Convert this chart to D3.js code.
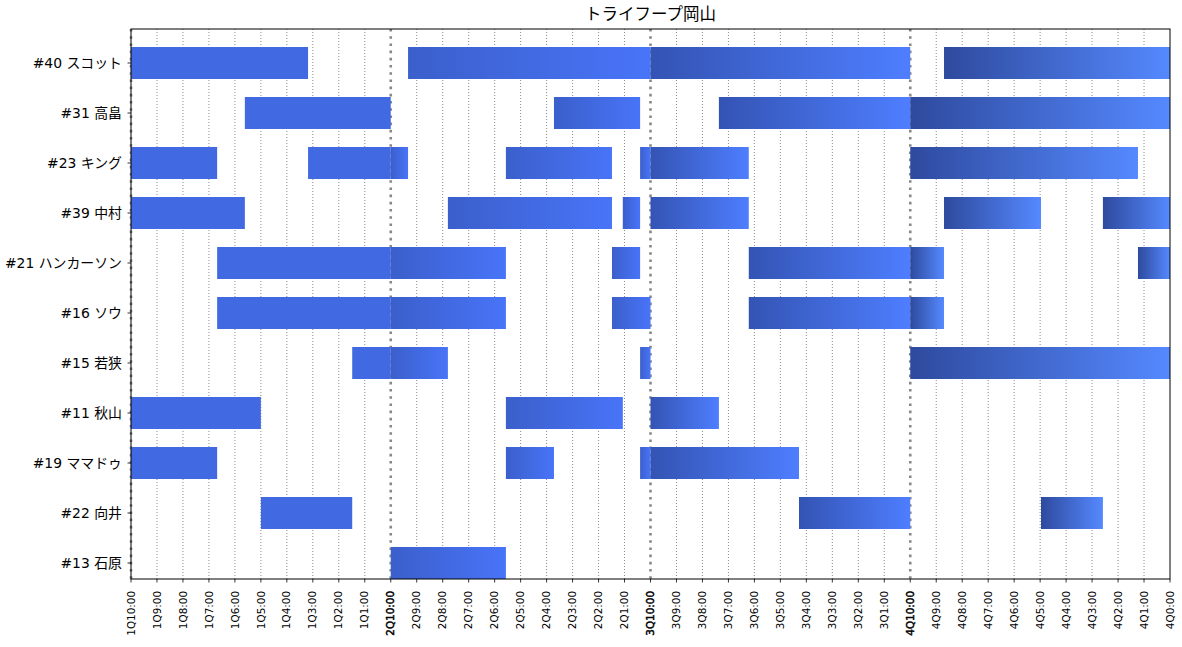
<!DOCTYPE html>
<html>
<head>
<meta charset="utf-8">
<script src="https://cdn.jsdelivr.net/npm/d3@7"></script>
<style>
  body { margin: 0; background: #fff; }
  text { font-family: "DejaVu Sans", "Noto Sans CJK JP", sans-serif; }
</style>
</head>
<body>
<svg id="chart" width="1182" height="647"></svg>
<script>
const title = "トライフープ岡山";

// top to bottom
const players = [
  "#40 スコット", "#31 高畠", "#23 キング", "#39 中村", "#21 ハンカーソン",
  "#16 ソウ", "#15 若狭", "#11 秋山", "#19 ママドゥ", "#22 向井", "#13 石原"
];

const quarters = ["1Q", "2Q", "3Q", "4Q"];
const clockMinutes = [10, 9, 8, 7, 6, 5, 4, 3, 2, 1, 0];

// colour multiplier (start, end of bar) for each quarter
const quarterShade = [[1, 1], [0.9, 1.1], [0.8, 1.2], [0.7, 1.3]];
const baseColor = "royalblue";

// [player, in, out] as game clock
const stints = [
  ["#40 スコット", "1Q10:00", "1Q3:11"],
  ["#40 スコット", "2Q9:20", "3Q0:00"],
  ["#40 スコット", "4Q8:42", "4Q0:00"],
  ["#31 高畠", "1Q5:37", "1Q0:00"],
  ["#31 高畠", "2Q3:43", "2Q0:24"],
  ["#31 高畠", "3Q7:22", "4Q0:00"],
  ["#23 キング", "1Q10:00", "1Q6:41"],
  ["#23 キング", "1Q3:11", "2Q9:20"],
  ["#23 キング", "2Q5:34", "2Q1:29"],
  ["#23 キング", "2Q0:24", "3Q6:13"],
  ["#23 キング", "4Q10:00", "4Q1:14"],
  ["#39 中村", "1Q10:00", "1Q5:37"],
  ["#39 中村", "2Q7:48", "2Q1:29"],
  ["#39 中村", "2Q1:04", "2Q0:24"],
  ["#39 中村", "3Q10:00", "3Q6:13"],
  ["#39 中村", "4Q8:42", "4Q4:58"],
  ["#39 中村", "4Q2:35", "4Q0:00"],
  ["#21 ハンカーソン", "1Q6:41", "2Q5:34"],
  ["#21 ハンカーソン", "2Q1:29", "2Q0:24"],
  ["#21 ハンカーソン", "3Q6:13", "4Q8:42"],
  ["#21 ハンカーソン", "4Q1:14", "4Q0:00"],
  ["#16 ソウ", "1Q6:41", "2Q5:34"],
  ["#16 ソウ", "2Q1:29", "2Q0:00"],
  ["#16 ソウ", "3Q6:13", "4Q8:42"],
  ["#15 若狭", "1Q1:29", "2Q7:48"],
  ["#15 若狭", "2Q0:24", "2Q0:00"],
  ["#15 若狭", "4Q10:00", "4Q0:00"],
  ["#11 秋山", "1Q10:00", "1Q5:00"],
  ["#11 秋山", "2Q5:34", "2Q1:04"],
  ["#11 秋山", "3Q10:00", "3Q7:22"],
  ["#19 ママドゥ", "1Q10:00", "1Q6:41"],
  ["#19 ママドゥ", "2Q5:34", "2Q3:43"],
  ["#19 ママドゥ", "2Q0:24", "3Q4:17"],
  ["#22 向井", "1Q5:00", "1Q1:29"],
  ["#22 向井", "3Q4:17", "3Q0:00"],
  ["#22 向井", "4Q4:58", "4Q2:35"],
  ["#13 石原", "2Q10:00", "2Q5:34"]
];

// "2Q5:34" -> minutes elapsed since tip-off
function elapsed(clock){
  const m = clock.match(/(\d)Q(\d+):(\d+)/);
  const q = +m[1], min = +m[2], sec = +m[3];
  return (q - 1) * 10 + (10 - (min + sec / 60));
}

const margin = { left: 131, right: 1170, top: 29, bottom: 579 };
const svg = d3.select("#chart");

const x = d3.scaleLinear().domain([0, 40]).range([margin.left, margin.right]);
const y = d3.scaleLinear().domain([-0.32, players.length - 0.32]).range([margin.bottom, margin.top]);
const rowY = name => y(players.length - 1 - players.indexOf(name));
const barH = y(0) - y(0.64);

// split stints at quarter ends
const pieces = [];
stints.forEach(([name, a, b]) => {
  const s = elapsed(a), e = elapsed(b);
  for (let q = Math.floor(s / 10); q < 4; q++) {
    const ps = Math.max(s, q * 10), pe = Math.min(e, (q + 1) * 10);
    if (pe - ps > 1e-6) pieces.push({ name, q, s: ps, e: pe });
  }
});

function shade(k){
  const c = d3.rgb(baseColor);
  return d3.rgb(Math.min(255, c.r * k), Math.min(255, c.g * k), Math.min(255, c.b * k)).formatHex();
}

// grid
const minutes = d3.range(0, 41);
svg.append("g").selectAll("line")
  .data(minutes.filter(m => m % 10 !== 0))
  .join("line")
  .attr("x1", d => x(d)).attr("x2", d => x(d))
  .attr("y1", margin.top).attr("y2", margin.bottom)
  .attr("stroke", "#8a8a8a").attr("stroke-width", 1)
  .attr("stroke-dasharray", "1,2");

svg.append("g").selectAll("line")
  .data([0, 10, 20, 30])
  .join("line")
  .attr("x1", d => x(d)).attr("x2", d => x(d))
  .attr("y1", margin.top).attr("y2", margin.bottom)
  .attr("stroke", "#888").attr("stroke-width", 2.6)
  .attr("stroke-dasharray", "2.6,4.6");

// bars
const defs = svg.append("defs");
pieces.forEach((p, i) => {
  const g = defs.append("linearGradient").attr("id", "g" + i)
    .attr("x1", 0).attr("x2", 1).attr("y1", 0).attr("y2", 0);
  g.append("stop").attr("offset", 0).attr("stop-color", shade(quarterShade[p.q][0]));
  g.append("stop").attr("offset", 1).attr("stop-color", shade(quarterShade[p.q][1]));
  p.fill = "url(#g" + i + ")";
});

svg.append("g").selectAll("rect")
  .data(pieces)
  .join("rect")
  .attr("x", d => x(d.s))
  .attr("width", d => x(d.e) - x(d.s))
  .attr("y", d => rowY(d.name) - barH / 2)
  .attr("height", barH)
  .attr("fill", d => d.fill);

// frame
svg.append("rect")
  .attr("x", margin.left).attr("y", margin.top)
  .attr("width", margin.right - margin.left).attr("height", margin.bottom - margin.top)
  .attr("fill", "none").attr("stroke", "#000").attr("stroke-width", 1);

// x ticks and labels; a quarter's "0:00" shares its spot with the next "10:00"
const xTicks = [];
quarters.forEach((q, qi) => {
  clockMinutes.forEach(m => {
    const pos = qi * 10 + (10 - m);
    if (m === 0 && qi < quarters.length - 1) return;
    xTicks.push({ pos, label: q + m + ":00", edge: m === 10 && qi > 0 });
  });
});

const xAxis = svg.append("g");
xAxis.selectAll("line")
  .data(minutes)
  .join("line")
  .attr("x1", d => x(d)).attr("x2", d => x(d))
  .attr("y1", margin.bottom).attr("y2", margin.bottom + 3.5)
  .attr("stroke", "#000").attr("stroke-width", 0.8);

xAxis.selectAll("text")
  .data(xTicks)
  .join("text")
  .attr("transform", d => `translate(${x(d.pos)},${margin.bottom + 12}) rotate(-90)`)
  .attr("text-anchor", "end")
  .attr("dy", "0.35em")
  .attr("font-size", "10.4px")
  .attr("fill", "#000")
  .attr("stroke", d => d.edge ? "#000" : null)
  .attr("stroke-width", d => d.edge ? 0.45 : null)
  .text(d => d.label);

// y ticks and labels
const yAxis = svg.append("g");
yAxis.selectAll("line")
  .data(players)
  .join("line")
  .attr("x1", margin.left - 3.5).attr("x2", margin.left)
  .attr("y1", d => rowY(d)).attr("y2", d => rowY(d))
  .attr("stroke", "#000").attr("stroke-width", 0.8);

yAxis.selectAll("text")
  .data(players)
  .join("text")
  .attr("x", margin.left - 9)
  .attr("y", d => rowY(d))
  .attr("dy", "0.35em")
  .attr("text-anchor", "end")
  .attr("font-size", "13.9px")
  .attr("fill", "#000")
  .text(d => d);

svg.append("text")
  .attr("x", (margin.left + margin.right) / 2)
  .attr("y", 20)
  .attr("text-anchor", "middle")
  .attr("font-size", "16.5px")
  .attr("fill", "#000")
  .text(title);
</script>
</body>
</html>
